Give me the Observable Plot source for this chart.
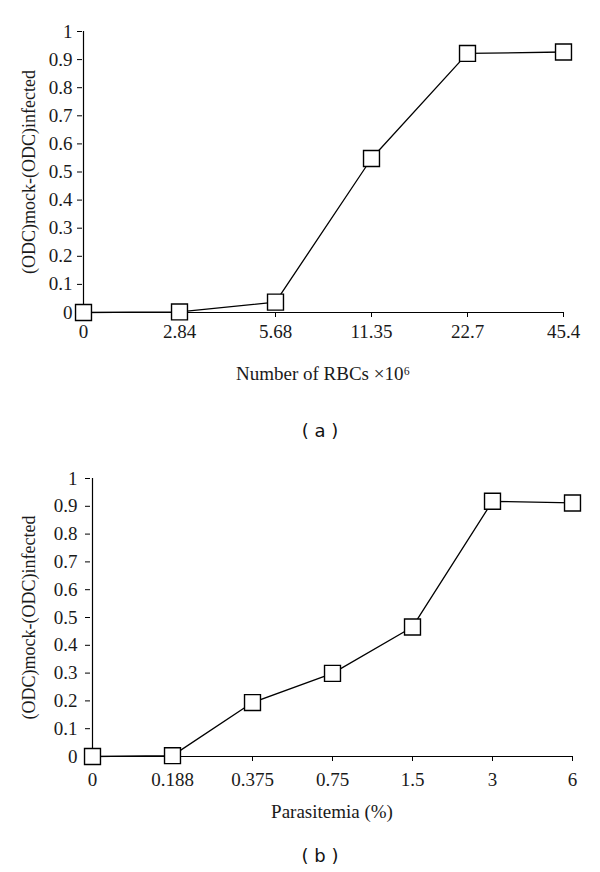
<!DOCTYPE html>
<html><head><meta charset="utf-8">
<script src="https://cdn.jsdelivr.net/npm/d3@7"></script>
<script src="https://cdn.jsdelivr.net/npm/@observablehq/plot@0.6"></script>
<style>
body{margin:0;background:#fff;}
#wrap{position:relative;width:600px;height:872px;overflow:hidden;}
.panel{position:absolute;left:0;}
.cap{position:absolute;left:20px;width:600px;text-align:center;font-family:"DejaVu Sans",sans-serif;font-size:18px;line-height:20px;color:#111;white-space:pre;}
</style></head><body>
<div id="wrap"></div>
<script>
// ---- data ----
const rbcLabels = ["0", "2.84", "5.68", "11.35", "22.7", "45.4"];
const rbcValues = [0, 0.002, 0.037, 0.548, 0.922, 0.927];
const paraLabels = ["0", "0.188", "0.375", "0.75", "1.5", "3", "6"];
const paraValues = [0, 0.003, 0.194, 0.299, 0.466, 0.918, 0.912];
const yTicks = [0, 0.1, 0.2, 0.3, 0.4, 0.5, 0.6, 0.7, 0.8, 0.9, 1];
const yTickLabels = ["0", "0.1", "0.2", "0.3", "0.4", "0.5", "0.6", "0.7", "0.8", "0.9", "1"];
const yTitle = "(ODC)mock-(ODC)infected";
const xTitleA = "Number of RBCs \u00d710\u2076";
const xTitleB = "Parasitemia (%)";
const captions = ["( a )", "( b )"];

function panel(labels, values, xTitle, o) {
  const data = labels.map((l, i) => ({x: l, y: values[i]}));
  return Plot.plot({
    width: 600, height: o.height,
    marginTop: o.marginTop, marginBottom: o.marginBottom,
    marginLeft: o.marginLeft, marginRight: o.marginRight,
    style: {fontFamily: '"Liberation Serif", "DejaVu Serif", serif', fontSize: "19px", color: "#1a1a1a", background: "transparent", overflow: "visible"},
    x: {type: "point", domain: labels, padding: 0},
    y: {domain: [0, 1]},
    marks: [
      Plot.axisX({tickSize: 5, tickPadding: o.xPad, stroke: "#000", label: xTitle, labelAnchor: "center", labelOffset: o.xLabelOffset, labelArrow: "none"}),
      Plot.axisY({ticks: yTicks, tickFormat: d => yTickLabels[yTicks.indexOf(d)], tickSize: 5, tickPadding: o.yPad, stroke: "#000", label: null}),
      Plot.axisY({ticks: [], tickSize: 0, label: yTitle, labelAnchor: "center", labelOffset: o.yLabelOffset, labelArrow: "none", fontSize: 18}),
      Plot.ruleY([0], {stroke: "#000", strokeWidth: 1.2}),
      Plot.ruleX([labels[0]], {stroke: "#000", strokeWidth: 1.2}),
      Plot.line(data, {x: "x", y: "y", stroke: "#000", strokeWidth: 1.3}),
      Plot.dot(data, {x: "x", y: "y", symbol: "square", r: 9, fill: "#fff", stroke: "#000", strokeWidth: 1.4})
    ]
  });
}

const wrap = document.getElementById("wrap");

const a = panel(rbcLabels, rbcValues, xTitleA, {
  height: 400, marginTop: 31, marginBottom: 88, marginLeft: 82, marginRight: 37,
  xPad: 7, yPad: 5, xLabelOffset: 67, yLabelOffset: 60
});
a.classList.add("panel"); a.style.top = "0px";
wrap.appendChild(a);

const capA = document.createElement("div");
capA.className = "cap"; capA.style.top = "421px"; capA.textContent = captions[0];
wrap.appendChild(capA);

const b = panel(paraLabels, paraValues, xTitleB, {
  height: 400, marginTop: 38, marginBottom: 84, marginLeft: 90, marginRight: 27,
  xPad: 11, yPad: 8, xLabelOffset: 61, yLabelOffset: 68
});
b.classList.add("panel"); b.style.top = "440px";
wrap.appendChild(b);

const capB = document.createElement("div");
capB.className = "cap"; capB.style.top = "846px"; capB.textContent = captions[1];
wrap.appendChild(capB);
</script>
</body></html>
